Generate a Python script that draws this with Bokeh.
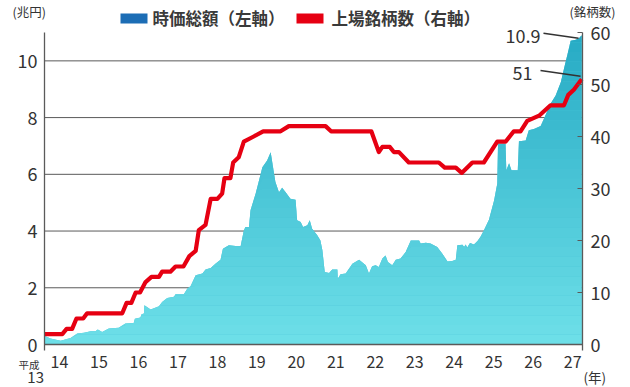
import numpy as np
from bokeh.plotting import figure
from bokeh.models import Range1d, LinearAxis, FixedTicker, Label, BoxAnnotation
from bokeh.embed import file_html
from bokeh.resources import INLINE

# ---------------- data (Heisei year as fractional x) ----------------
cap_t = [13.63, 13.77, 14.03, 14.28, 14.45, 14.62, 14.79, 14.91, 14.97, 15.08,
         15.25, 15.50, 15.67, 15.88, 15.91, 16.05, 16.08, 16.14, 16.15, 16.31,
         16.52, 16.60, 16.73, 16.90, 16.94, 17.15, 17.24, 17.32, 17.45, 17.62,
         17.70, 17.83, 17.95, 18.08, 18.14, 18.29, 18.46, 18.59, 18.67, 18.71,
         18.80, 18.84, 18.97, 19.14, 19.26, 19.35, 19.41, 19.47, 19.56, 19.64,
         19.73, 19.85, 19.98, 20.02, 20.11, 20.17, 20.28, 20.34, 20.40, 20.53,
         20.61, 20.66, 20.72, 20.83, 20.91, 21.04, 21.05, 21.12, 21.25, 21.42,
         21.59, 21.76, 21.84, 21.92, 22.01, 22.09, 22.18, 22.26, 22.32, 22.43,
         22.52, 22.64, 22.77, 22.90, 23.11, 23.15, 23.28, 23.40, 23.57, 23.70,
         23.83, 23.95, 24.04, 24.08, 24.21, 24.25, 24.29, 24.33, 24.40, 24.50,
         24.59, 24.67, 24.75, 24.88, 25.01, 25.09, 25.11, 25.30, 25.32, 25.39,
         25.45, 25.61, 25.64, 25.81, 25.89, 26.02, 26.19, 26.27, 26.44, 26.57,
         26.70, 26.82, 26.89, 26.95, 27.08, 27.16, 27.23]
cap_v = [0.30, 0.21, 0.13, 0.23, 0.39, 0.41, 0.47, 0.47, 0.53, 0.44,
         0.56, 0.59, 0.74, 0.76, 0.91, 0.95, 1.07, 1.09, 1.38, 1.23,
         1.35, 1.50, 1.64, 1.68, 1.77, 1.77, 1.97, 2.05, 2.44, 2.50,
         2.64, 2.70, 2.85, 2.99, 3.38, 3.50, 3.47, 3.47, 4.02, 4.14,
         4.14, 4.73, 5.32, 6.25, 6.49, 6.78, 6.25, 5.73, 5.37, 5.53,
         5.37, 5.14, 5.10, 4.38, 4.32, 4.14, 4.20, 4.38, 4.08, 3.85,
         3.67, 3.32, 2.56, 2.52, 2.64, 2.64, 2.32, 2.48, 2.50, 2.85,
         2.99, 2.79, 2.50, 2.76, 2.79, 2.73, 3.03, 3.14, 2.91, 2.79,
         2.99, 3.03, 3.26, 3.67, 3.67, 3.56, 3.59, 3.56, 3.44, 3.20,
         2.93, 2.94, 2.99, 3.50, 3.52, 3.44, 3.53, 3.42, 3.58, 3.53,
         3.65, 3.81, 4.02, 4.40, 5.08, 5.67, 7.08, 7.08, 6.14, 6.39,
         6.14, 6.14, 7.17, 7.19, 7.55, 7.60, 7.70, 7.95, 8.49, 8.78,
         9.25, 9.95, 10.35, 10.71, 10.74, 10.80, 10.90]

line_t = [13.63, 14.07, 14.18, 14.32, 14.43, 14.60, 14.70, 15.59, 15.70, 15.82,
          15.93, 16.04, 16.18, 16.33, 16.52, 16.60, 16.81, 16.94, 17.14, 17.29,
          17.45, 17.53, 17.70, 17.83, 18.00, 18.12, 18.18, 18.33, 18.40, 18.54,
          18.67, 18.92, 19.16, 19.60, 19.81, 20.74, 20.88, 21.90, 22.09, 22.18,
          22.37, 22.47, 22.60, 22.85, 23.61, 23.76, 24.04, 24.19, 24.46, 24.75,
          25.09, 25.30, 25.51, 25.68, 25.85, 26.15, 26.44, 26.78, 26.89, 27.03,
          27.23]
line_n = [2, 2, 3, 3, 5, 5, 6, 6, 8, 8,
          10, 10, 12, 13, 13, 14, 14, 15, 15, 17,
          18, 22, 23, 28, 28, 29, 32, 32, 35, 36,
          39, 40, 41, 41, 42, 42, 41, 41, 37, 38,
          38, 37, 37, 35, 35, 34, 34, 33, 35, 35,
          39, 39, 41, 41, 43, 44, 46, 46, 48, 49,
          51]

x_ticks = list(range(14, 28))
left_ticks = [0, 2, 4, 6, 8, 10]
right_ticks = [0, 10, 20, 30, 40, 50, 60]
legend_cap = "時価総額（左軸）"
legend_num = "上場銘柄数（右軸）"
cap_unit = "(兆円)"
num_unit = "(銘柄数)"
year_unit = "(年)"
first_era = "平成"
first_year = "13"

FONT = "Noto Sans CJK JP"
AX = "#5a5a5a"
TXT = "#333333"
RED = "#e60012"
BLUE = "#1c6db5"

# ---------------- layout geometry (page pixels, canvas at page origin) ----------------
W, H = 628, 387
PL, PR, PT, PB = 44, 582, 32, 344   # plot box on the page
X0, X1 = 13.62, 27.25               # x data extent of the plot box
YMAX, RMAX = 11.0, 60.0
kx = (PR - PL) / (X1 - X0)
ky = (PB - PT) / YMAX
kr = (PB - PT) / RMAX

def tx(px):
    return X0 + (px - PL) / kx

def vy(py):
    return (PB - py) / ky

def ry(py):
    return (PB - py) / kr

p = figure(width=W, height=H,
           x_range=Range1d(tx(0), tx(W)), y_range=Range1d(vy(H), vy(0)),
           output_backend="svg", toolbar_location=None,
           min_border=0, min_border_left=0, min_border_right=0,
           min_border_top=0, min_border_bottom=0)
p.extra_y_ranges = {"right": Range1d(ry(H), ry(0))}
p.title.visible = False
p.outline_line_color = None
p.background_fill_color = "white"
p.border_fill_color = "white"
p.xgrid.visible = False
p.ygrid.visible = False

# horizontal grid lines (left-axis ticks)
gt = [g for g in left_ticks if g > 0]
p.segment(x0=[X0] * len(gt), y0=gt, x1=[X1] * len(gt), y1=gt,
          line_color=AX, line_width=1)

# left axis
ext = 6
p.yaxis.fixed_location = X0
p.yaxis.bounds = (-ext / ky, YMAX)
p.yaxis.ticker = FixedTicker(ticks=left_ticks)
p.yaxis.major_tick_in = 0
p.yaxis.major_tick_out = 0
p.yaxis.minor_tick_line_color = None
p.yaxis.axis_line_color = AX
p.yaxis.axis_line_width = 1.3
p.yaxis.major_label_standoff = 7
p.yaxis.major_label_text_font = FONT
p.yaxis.major_label_text_font_size = "18px"
p.yaxis.major_label_text_color = TXT

# right axis
ra = LinearAxis(y_range_name="right", ticker=FixedTicker(ticks=right_ticks),
                fixed_location=X1, bounds=(-ext / kr, RMAX),
                major_tick_in=5, major_tick_out=0, major_tick_line_color=AX,
                minor_tick_line_color=None,
                axis_line_color=AX, axis_line_width=1.3,
                major_label_standoff=8, major_label_text_font=FONT,
                major_label_text_font_size="18px", major_label_text_color=TXT)
p.add_layout(ra, "right")

# bottom axis
p.xaxis.fixed_location = 0
p.xaxis.bounds = (X0, X1)
p.xaxis.ticker = FixedTicker(ticks=x_ticks)
p.xaxis.major_tick_in = 0
p.xaxis.major_tick_out = 0
p.xaxis.minor_tick_line_color = None
p.xaxis.axis_line_color = AX
p.xaxis.axis_line_width = 1.3
p.xaxis.major_label_standoff = 11
p.xaxis.major_label_text_font = FONT
p.xaxis.major_label_text_font_size = "16px"
p.xaxis.major_label_text_color = TXT

# ---------------- gradient area ----------------
t = np.array(cap_t)
v = np.array(cap_v)
c0 = np.array([110, 224, 233])
c1 = np.array([38, 170, 196])
mid = tuple(int(c) for c in (c0 + c1) / 2)
p.varea(x=t, y1=np.zeros_like(v), y2=v, fill_color="#%02x%02x%02x" % mid)
nb = 32
levels = np.linspace(0, YMAX, nb + 1)
for i in range(nb):
    f = (levels[i] + levels[i + 1]) / 2 / YMAX
    c = c0 + (c1 - c0) * f
    col = "#%02x%02x%02x" % tuple(int(round(x)) for x in c)
    lo = np.minimum(v, levels[i])
    hi = np.minimum(v, levels[i + 1])
    if np.all(hi <= lo):
        continue
    p.varea(x=t, y1=lo, y2=hi, fill_color=col)

# ---------------- red line ----------------
p.line(line_t, line_n, y_range_name="right", line_color=RED, line_width=4.2,
       line_join="round")

# ---------------- value call-outs ----------------
p.segment(x0=[tx(543)], y0=[cap_v[-1] + 0.07], x1=[cap_t[-1] - 0.08], y1=[cap_v[-1] - 0.1],
          line_color="#333333", line_width=1.5)
p.add_layout(Label(x=tx(540), y=vy(35), text="10.9", text_align="right",
                   text_baseline="middle", text_font=FONT, text_font_size="18px",
                   text_color=TXT))
p.segment(x0=[tx(540)], y0=[line_n[-1] + 1.7], x1=[line_t[-1] - 0.03], y1=[line_n[-1] + 0.6],
          line_color="#333333", line_width=1.5, y_range_name="right")
p.add_layout(Label(x=tx(532), y=vy(72), text="51", text_align="right",
                   text_baseline="middle", text_font=FONT, text_font_size="18px",
                   text_color=TXT))

# ---------------- legend and unit labels ----------------
p.add_layout(BoxAnnotation(left=tx(120), right=tx(147), top=vy(13), bottom=vy(23),
                           fill_color=BLUE, fill_alpha=1, line_color=None))
p.add_layout(Label(x=tx(152), y=vy(17.5), text=legend_cap, text_baseline="middle",
                   text_font=FONT, text_font_size="16.5px", text_font_style="bold",
                   text_color="#3a3a3a"))
p.add_layout(BoxAnnotation(left=tx(296), right=tx(323), top=vy(13), bottom=vy(23),
                           fill_color=RED, fill_alpha=1, line_color=None))
p.add_layout(Label(x=tx(331), y=vy(17.5), text=legend_num, text_baseline="middle",
                   text_font=FONT, text_font_size="16.5px", text_font_style="bold",
                   text_color="#3a3a3a"))
p.add_layout(Label(x=tx(12), y=vy(11), text=cap_unit, text_baseline="middle",
                   text_font=FONT, text_font_size="12.5px", text_color=TXT))
p.add_layout(Label(x=tx(615), y=vy(11), text=num_unit, text_baseline="middle",
                   text_align="right", text_font=FONT, text_font_size="12.5px",
                   text_color=TXT))
p.add_layout(Label(x=tx(39), y=vy(364), text=first_era, text_baseline="middle",
                   text_align="right", text_font=FONT, text_font_size="10.5px",
                   text_color=TXT))
p.add_layout(Label(x=tx(43.5), y=vy(377), text=first_year, text_baseline="middle",
                   text_align="right", text_font=FONT, text_font_size="15px",
                   text_color=TXT))
p.add_layout(Label(x=tx(583), y=vy(376), text=year_unit, text_baseline="middle",
                   text_font=FONT, text_font_size="13.5px", text_color=TXT))

open("out.html", "w").write(file_html(p, INLINE))
